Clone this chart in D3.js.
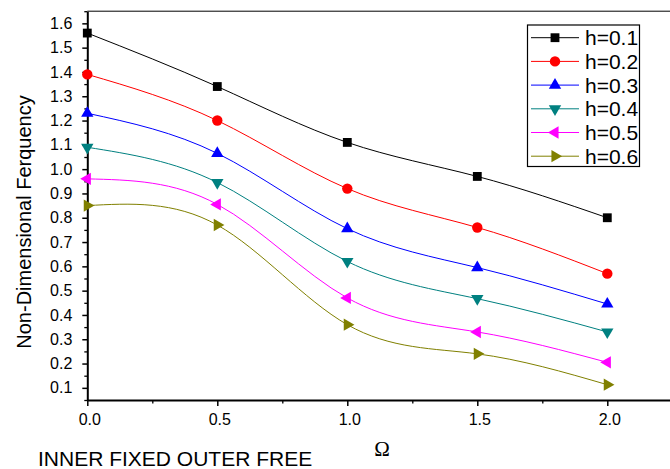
<!DOCTYPE html>
<html>
<head>
<meta charset="utf-8">
<script src="https://cdn.jsdelivr.net/npm/d3@7"></script>
<style>
  body { margin: 0; background: #fff; }
  text { font-family: "Liberation Sans", Arial, sans-serif; }
</style>
</head>
<body>
<div id="container"></div>
<script>
const w = 670;
const h = 469;

// data
let omega = [0, 0.5, 1.0, 1.5, 2.0];
let h01 = [1.56, 1.34, 1.11, 0.97, 0.80];
let h02 = [1.39, 1.20, 0.92, 0.76, 0.57];
let h03 = [1.23, 1.065, 0.755, 0.595, 0.445];
let h04 = [1.09, 0.945, 0.62, 0.467, 0.33];
let h05 = [0.96, 0.855, 0.47, 0.33, 0.205];
let h06 = [0.85, 0.77, 0.36, 0.24, 0.113];
let seriesNames = ["h=0.1", "h=0.2", "h=0.3", "h=0.4", "h=0.5", "h=0.6"];
let xTicks = [0, 0.5, 1.0, 1.5, 2.0];
let yTicks = [0.1, 0.2, 0.3, 0.4, 0.5, 0.6, 0.7, 0.8, 0.9, 1.0, 1.1, 1.2, 1.3, 1.4, 1.5, 1.6];

let allSeries = [h01, h02, h03, h04, h05, h06];
let colors = ["#000000", "#ff0000", "#0000ff", "#008080", "#ff00ff", "#808000"];
// symbol type + rotation
let markers = [
  {type: d3.symbolSquare, size: 78, rot: 0},
  {type: d3.symbolCircle, size: 85, rot: 0},
  {type: d3.symbolTriangle, size: 66, rot: 0},
  {type: d3.symbolTriangle, size: 66, rot: 180},
  {type: d3.symbolTriangle, size: 66, rot: -90},
  {type: d3.symbolTriangle, size: 66, rot: 90}
];

let xScale = d3.scaleLinear().domain([0, 2.25]).range([87.3, 672.3]);
let yScale = d3.scaleLinear().domain([0.05, 1.65]).range([400, 11.2]);

let viz = d3.select("#container").append("svg").attr("width", w).attr("height", h);

// top frame line
viz.append("line")
  .attr("x1", xScale(0)).attr("x2", xScale(2.25))
  .attr("y1", yScale(1.65)).attr("y2", yScale(1.65))
  .attr("stroke", "#000").attr("stroke-width", 1);

// minor ticks
let yMinor = d3.range(0.05, 1.66, 0.05).filter(v => Math.abs(Math.round(v * 10) - v * 10) > 0.01);
viz.append("g").attr("transform", "translate(" + xScale(0) + ",0)")
  .call(d3.axisLeft(yScale).tickValues(yMinor).tickSize(3).tickSizeOuter(0).tickFormat(""))
  .call(g => g.select(".domain").remove())
  .selectAll("line").attr("stroke-width", 1.3);
let xMinor = [0.25, 0.75, 1.25, 1.75, 2.25];
viz.append("g").attr("transform", "translate(0," + yScale(0.05) + ")")
  .call(d3.axisBottom(xScale).tickValues(xMinor).tickSize(3.5).tickSizeOuter(0).tickFormat(""))
  .call(g => g.select(".domain").remove())
  .selectAll("line").attr("stroke-width", 1.3);

// y axis
let yAxisGroup = viz.append("g").attr("transform", "translate(" + xScale(0) + ",0)")
  .call(d3.axisLeft(yScale).tickValues(yTicks).tickSize(5).tickSizeOuter(0).tickPadding(10).tickFormat(d3.format(".1f")));
yAxisGroup.select(".domain").attr("stroke-width", 2);
yAxisGroup.selectAll(".tick line").attr("stroke-width", 1.5);
yAxisGroup.selectAll("text").attr("font-size", 16).attr("fill", "#000")
  .style("font-family", "Liberation Sans, Arial, sans-serif");

// x axis
let xAxisGroup = viz.append("g").attr("transform", "translate(0," + yScale(0.05) + ")")
  .call(d3.axisBottom(xScale).tickValues(xTicks).tickSize(6).tickSizeOuter(0).tickPadding(8).tickFormat(d3.format(".1f")));
xAxisGroup.select(".domain").attr("stroke-width", 2);
xAxisGroup.selectAll(".tick line").attr("stroke-width", 1.5);
xAxisGroup.selectAll("text").attr("font-size", 16).attr("fill", "#000")
  .attr("dx", 2)
  .style("font-family", "Liberation Sans, Arial, sans-serif");

// axis titles
viz.append("text")
  .attr("transform", "translate(30.5," + 222 + ") rotate(-90)")
  .attr("text-anchor", "middle")
  .attr("font-size", 20)
  .text("Non-Dimensional Ferquency");

viz.append("text")
  .attr("x", 382).attr("y", 456)
  .attr("text-anchor", "middle")
  .attr("font-size", 21)
  .style("font-family", "Liberation Serif, Times New Roman, serif")
  .text("Ω");

viz.append("text")
  .attr("x", 38).attr("y", 466)
  .attr("font-size", 21)
  .text("INNER FIXED OUTER FREE");

// lines
let line = d3.line()
  .x(function(d, i){ return xScale(omega[i]) })
  .y(function(d){ return yScale(d) })
  .curve(d3.curveNatural);

let groups = viz.selectAll(".series").data(allSeries).enter().append("g").attr("class", "series");

groups.append("path")
  .attr("d", function(d){ return line(d) })
  .attr("fill", "none")
  .attr("stroke", function(d, i){ return colors[i] })
  .attr("stroke-width", 1);

groups.each(function(series, si){
  d3.select(this).selectAll("path.pt").data(series).enter().append("path")
    .attr("class", "pt")
    .attr("d", d3.symbol().type(markers[si].type).size(markers[si].size))
    .attr("transform", function(d, i){
      return "translate(" + xScale(omega[i]) + "," + yScale(d) + ") rotate(" + markers[si].rot + ")";
    })
    .attr("fill", colors[si]);
});

// legend
let legend = viz.append("g");
legend.append("rect")
  .attr("x", 527.5).attr("y", 25)
  .attr("width", 112).attr("height", 141.5)
  .attr("fill", "#fff").attr("stroke", "#000").attr("stroke-width", 1.2);

let rows = legend.selectAll(".row").data(seriesNames).enter().append("g")
  .attr("transform", function(d, i){ return "translate(0," + (37.7 + i * 23.7) + ")" });

rows.append("line")
  .attr("x1", 531).attr("x2", 579)
  .attr("stroke", function(d, i){ return colors[i] })
  .attr("stroke-width", 1);

rows.append("path")
  .attr("d", function(d, i){ return d3.symbol().type(markers[i].type).size(markers[i].size)() })
  .attr("transform", function(d, i){ return "translate(555,0) rotate(" + markers[i].rot + ")" })
  .attr("fill", function(d, i){ return colors[i] });

rows.append("text")
  .attr("x", 585).attr("y", 7.5)
  .attr("font-size", 21)
  .text(function(d){ return d });
</script>
</body>
</html>
